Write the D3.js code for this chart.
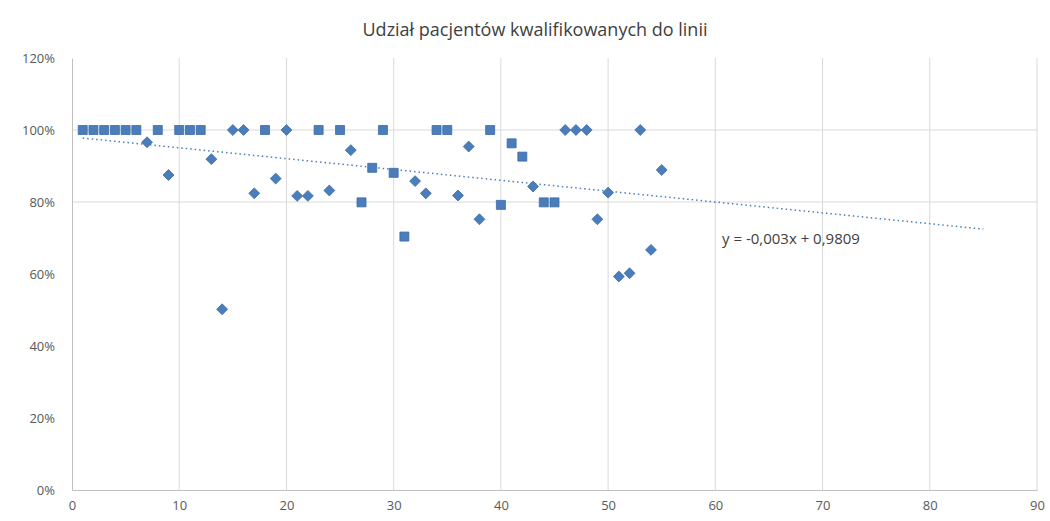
<!DOCTYPE html>
<html><head><meta charset="utf-8">
<script src="https://cdn.jsdelivr.net/npm/d3@7"></script>
<style>body{margin:0;background:#fff}</style></head>
<body><svg id="c" width="1050" height="521"></svg>
<script>
const chartTitle = "Udział pacjentów kwalifikowanych do linii";
// series drawn with square markers
const squareX = [1,2,3,4,5,6,8,10,11,12,18,23,25,27,28,29,30,31,34,35,39,40,41,42,44,45];
const squareY = [1,1,1,1,1,1,1,1,1,1,1,1,1,0.799,0.895,1,0.881,0.704,1,1,1,0.792,0.963,0.926,0.799,0.799];
// series drawn with diamond markers
const diamondX = [7,9,13,14,15,16,17,19,20,21,22,24,26,32,33,36,37,38,43,46,47,48,49,50,51,52,53,54,55];
const diamondY = [0.966,0.875,0.919,0.502,1,1,0.824,0.865,1,0.817,0.817,0.832,0.944,0.858,0.824,0.818,0.954,0.752,0.843,1,1,1,0.752,0.826,0.593,0.602,1,0.667,0.889];
const xTicks = [0,10,20,30,40,50,60,70,80,90];
const yTicks = [0,0.2,0.4,0.6,0.8,1.0,1.2];
const yGridTicks = [0.8,1.0];
const trendRange = [1,85];
const equationLabel = "y = -0,003x + 0,9809";

const svg = d3.select("#c");
const x = d3.scaleLinear().domain([0,90]).range([72,1037]);
const y = d3.scaleLinear().domain([0,1.2]).range([490,58]);
const grid = "#d9d9d9", txt = "#595959", blue = "#4A7EBB";
const font = "'Open Sans', sans-serif";

// gridlines
svg.append("g").selectAll("line").data(xTicks.slice(1)).join("line")
  .attr("x1",d=>x(d)).attr("x2",d=>x(d)).attr("y1",y(1.2)).attr("y2",y(0))
  .attr("stroke",grid).attr("stroke-width",1);
svg.append("g").selectAll("line").data(yGridTicks).join("line")
  .attr("x1",x(0)).attr("x2",x(90)).attr("y1",d=>y(d)).attr("y2",d=>y(d))
  .attr("stroke",grid).attr("stroke-width",1);

// axes
const xAxis = svg.append("g").attr("transform",`translate(0,${y(0)})`)
  .call(d3.axisBottom(x).tickValues(xTicks).tickSize(0).tickSizeOuter(0).tickPadding(11));
const yAxis = svg.append("g").attr("transform",`translate(${x(0)},0)`)
  .call(d3.axisLeft(y).tickValues(yTicks).tickFormat(d3.format(".0%")).tickSize(0).tickSizeOuter(0).tickPadding(17));
[xAxis,yAxis].forEach(a=>{
  a.selectAll("path,line").attr("stroke","#bfbfbf");
  a.selectAll("text").attr("fill",txt).style("font-family",font).style("font-size","13px");
});

// trendline (least squares over all points)
const allX = squareX.concat(diamondX), allY = squareY.concat(diamondY);
const mx = d3.mean(allX), my = d3.mean(allY);
const slope = d3.sum(allX,(v,i)=>(v-mx)*(allY[i]-my)) / d3.sum(allX,v=>(v-mx)*(v-mx));
const icpt = my - slope*mx;
svg.append("line")
  .attr("x1",x(trendRange[0])).attr("y1",y(icpt+slope*trendRange[0]))
  .attr("x2",x(trendRange[1])).attr("y2",y(icpt+slope*trendRange[1]))
  .attr("stroke",blue).attr("stroke-width",1.5).attr("stroke-dasharray","1.5,3");

// markers
svg.append("g").selectAll("path").data(squareX.map((v,i)=>[v,squareY[i]])).join("path")
  .attr("d",d3.symbol(d3.symbolSquare,81))
  .attr("transform",d=>`translate(${x(d[0])},${y(d[1])})`)
  .attr("fill",blue).attr("stroke","#3D6AA6").attr("stroke-width",0.8);
svg.append("g").selectAll("path").data(diamondX.map((v,i)=>[v,diamondY[i]])).join("path")
  .attr("d",d3.symbol(d3.symbolDiamond2,76))
  .attr("transform",d=>`translate(${x(d[0])},${y(d[1])})`)
  .attr("fill",blue).attr("stroke","#3D6AA6").attr("stroke-width",0.8);

// equation label
svg.append("text").attr("x",722).attr("y",244).text(equationLabel)
  .attr("fill","#404040").style("font-family",font).style("font-size","15px");

// title
svg.append("text").attr("x",535).attr("y",36).attr("text-anchor","middle").text(chartTitle)
  .attr("fill","#404040").style("font-family",font).style("font-size","18px");
</script></body></html>
